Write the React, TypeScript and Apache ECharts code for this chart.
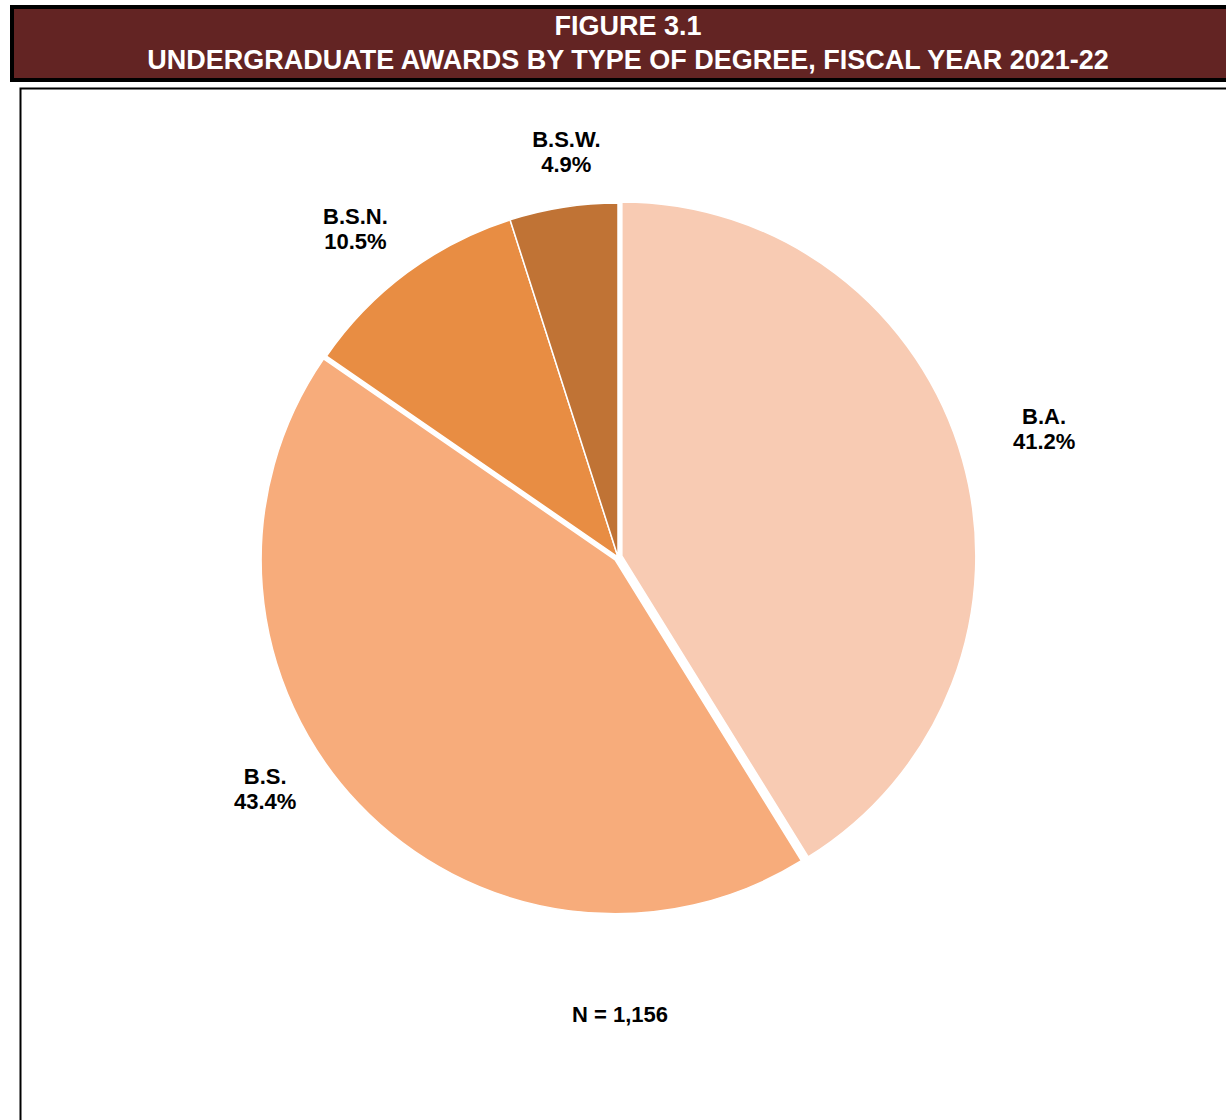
import React, { useEffect, useRef } from "react";
import * as echarts from "echarts";

const categories = ["B.A.", "B.S.", "B.S.N.", "B.S.W."];
const counts = [476, 502, 121, 57];
const explodedSlices = ["B.A.", "B.S."];
const titleLines = ["FIGURE 3.1", "UNDERGRADUATE AWARDS BY TYPE OF DEGREE, FISCAL YEAR 2021-22"];

const colors = ["#F8CBB3", "#F7AC7B", "#E88D43", "#C07335"];
// label placement: radius factor and angle tweak (degrees) relative to slice mid-angle
const labelRadiusFactor = [1.253, 1.189, 1.183, 1.149];
const labelAngleTweak = [0.8, -10.3, 2.1, -1.6];

const CX = 618;
const CY = 557;
const R = 354;
const FONT = "'Liberation Sans', Arial, Helvetica, sans-serif";

export default function App() {
  const ref = useRef<HTMLDivElement>(null);
  useEffect(() => {
    if (!ref.current) return;
    const chart = echarts.init(ref.current, null, { renderer: "svg" });
    const total = counts.reduce((a, b) => a + b, 0);
    const mids: number[] = [];
    let acc = 0;
    counts.forEach((c) => {
      const start = 90 - (acc / total) * 360;
      const end = 90 - ((acc + c) / total) * 360;
      mids.push((start + end) / 2);
      acc += c;
    });
    chart.setOption({
      animation: false,
      backgroundColor: "#ffffff",
      graphic: [
        {
          type: "rect",
          shape: { x: 12, y: 7, width: 1240, height: 73 },
          style: { fill: "#632423", stroke: "#000000", lineWidth: 4 },
        },
        {
          type: "text",
          x: 628,
          y: 26,
          style: {
            text: titleLines[0],
            fill: "#ffffff",
            font: `bold 27px ${FONT}`,
            align: "center",
            verticalAlign: "middle",
          },
        },
        {
          type: "text",
          x: 628,
          y: 60,
          style: {
            text: titleLines[1],
            fill: "#ffffff",
            font: `bold 27px ${FONT}`,
            align: "center",
            verticalAlign: "middle",
          },
        },
        {
          type: "rect",
          shape: { x: 20.5, y: 88.5, width: 1240, height: 1100 },
          style: { fill: "none", stroke: "#000000", lineWidth: 2 },
        },
        {
          type: "text",
          x: 620,
          y: 1014,
          style: {
            text: "N = " + total.toLocaleString("en-US"),
            fill: "#000000",
            font: `bold 22px ${FONT}`,
            align: "center",
            verticalAlign: "middle",
          },
        },
      ],
      series: [
        {
          type: "pie",
          name: "slices",
          center: [CX, CY],
          radius: R,
          startAngle: 90,
          clockwise: true,
          selectedMode: "multiple",
          selectedOffset: 4,
          emphasis: { disabled: true },
          label: { show: false },
          labelLine: { show: false },
          data: categories.map((name, i) => ({
            name,
            value: counts[i],
            selected: explodedSlices.includes(name),
            itemStyle: {
              color: colors[i],
              borderColor: "#ffffff",
              borderWidth: 1.5,
            },
          })),
        },
        {
          type: "pie",
          name: "labels",
          silent: true,
          z: 3,
          center: [CX, CY],
          radius: R,
          startAngle: 90,
          clockwise: true,
          percentPrecision: 1,
          selectedMode: false,
          avoidLabelOverlap: false,
          emphasis: { disabled: true },
          itemStyle: { color: "rgba(0,0,0,0)", borderWidth: 0 },
          label: {
            show: true,
            position: "outside",
            formatter: "{b}\n{d}%",
            color: "#000000",
            fontFamily: FONT,
            fontWeight: "bold",
            fontSize: 22,
            lineHeight: 25,
            align: "center",
          },
          labelLine: { show: false },
          labelLayout: (params: any) => {
            const i = params.dataIndex;
            const ang = ((mids[i] + labelAngleTweak[i]) * Math.PI) / 180;
            const d = 355 * labelRadiusFactor[i];
            return {
              x: CX + d * Math.cos(ang),
              y: CY - d * Math.sin(ang),
              align: "center",
              verticalAlign: "middle",
            };
          },
          data: categories.map((name, i) => ({ name, value: counts[i] })),
        },
      ],
    });
    return () => chart.dispose();
  }, []);
  return (
    <div
      ref={ref}
      style={{ position: "absolute", left: 0, top: 0, width: 1226, height: 1120 }}
    />
  );
}
